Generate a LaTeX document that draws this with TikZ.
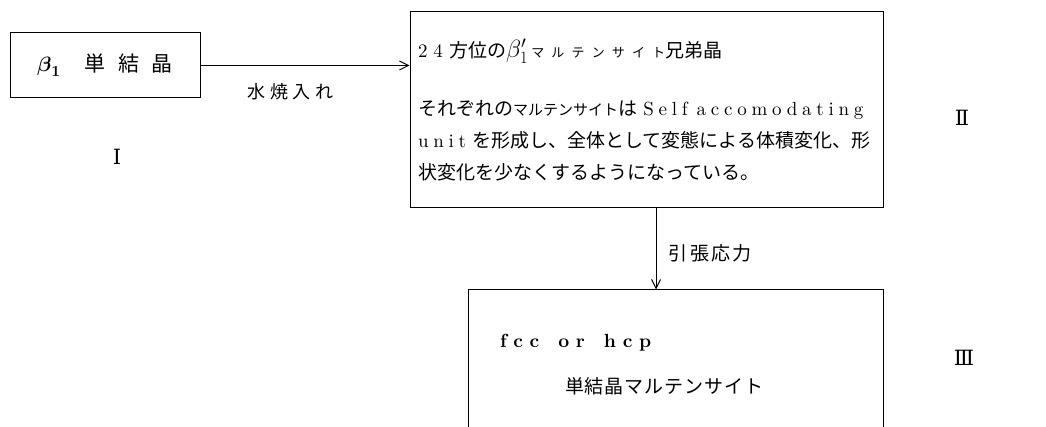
\documentclass[tikz,border=0pt]{standalone}
\usepackage{fontspec}
\usepackage{amsmath}
\usepackage{amssymb}
\usepackage{tikz}
\usetikzlibrary{arrows.meta,positioning}
\setmainfont{lmroman10-regular}[Extension=.otf, BoldFont=lmroman10-bold, ItalicFont=lmroman10-italic]
\newfontfamily\jp{Noto Sans CJK JP}
\newfontfamily\romnum{DejaVu Serif}

\begin{document}
\begin{tikzpicture}[
    x=1pt, y=-1pt,
    every node/.style={font=\fontsize{19}{32}\selectfont},
    phase/.style={rectangle, draw, line width=1pt, inner sep=0pt},
    arrow/.style={line width=1pt,->,>={Straight Barb[length=9pt,width=9pt]}},
    stage/.style={font=\fontsize{21}{24}\selectfont\romnum}
]
\useasboundingbox (0,0) rectangle (1046,427);

% Phases
\node[phase, minimum width=190pt, minimum height=65pt] (single) at (105,65.5)
    {{\fontsize{22}{22}\selectfont$\boldsymbol{\beta}_{\mathbf{1}}$}\hspace{24pt}{\jp\fontsize{21}{21}\selectfont\addfontfeatures{LetterSpace=60}単結晶}};
\node[phase, minimum width=473pt, minimum height=196pt, text width=457pt, inner xsep=8pt, align=left] (twins) at (646.5,110)
    {2\hspace{6pt}4\hspace{6pt}{\jp 方位の}{\fontsize{25}{25}\selectfont$\beta'_1$}\,{\jp\fontsize{13}{13}\selectfont\addfontfeatures{LetterSpace=55}マルテンサイト}{\jp 兄弟晶}\\[26pt]
     {\jp それぞれの{\fontsize{15}{15}\selectfont マルテンサイト}は}\ {\addfontfeatures{LetterSpace=25}Self\hspace{9pt}accomodating}\\
     {\addfontfeatures{LetterSpace=25}unit}\ {\jp を形成し、全体として変態による体積変化、形}\\
     {\jp 状変化を少なくするようになっている。}};
\node[phase, minimum width=415pt, minimum height=150pt, text width=399pt, inner xsep=8pt, align=left] (mono) at (675.5,365)
    {\hspace*{24pt}{\bfseries\addfontfeatures{LetterSpace=35}fcc\quad or\quad hcp}\\[14pt]
     \hspace*{89pt}{\jp\addfontfeatures{LetterSpace=5}単結晶マルテンサイト}};

% Stage numbers
\node[stage] (s1) at (117,157) {Ⅰ};
\node[stage] (s2) at (962,118) {Ⅱ};
\node[stage] (s3) at (964,358) {Ⅲ};

% Connections
\draw[arrow] (single.east) -- (twins.west |- single.east)
    node[pos=0.43, below=14pt, font=\jp\fontsize{18}{18}\selectfont\addfontfeatures{LetterSpace=25}] (quench) {水焼入れ};
\draw[arrow] ([xshift=9.5pt]twins.south) -- ([xshift=9.5pt]twins.south |- mono.north)
    node[pos=0.55, right=9pt, font=\jp\fontsize{19}{19}\selectfont\addfontfeatures{LetterSpace=12}] (tension) {引張応力};

\end{tikzpicture}
\end{document}
